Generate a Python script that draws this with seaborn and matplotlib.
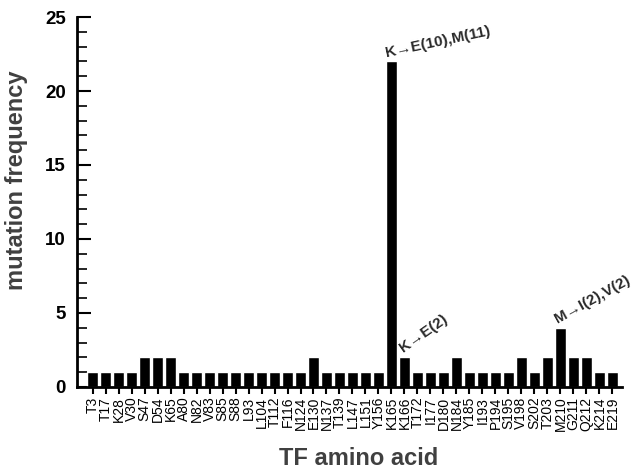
import matplotlib
matplotlib.use("Agg")
import matplotlib.pyplot as plt
import seaborn as sns
import pandas as pd
from matplotlib.ticker import MultipleLocator

# ── Data ──────────────────────────────────────────────────────────────────────
residues = [
    "T3", "T17", "K28", "V30", "S47", "D54", "K65", "A80", "N82", "V83",
    "S85", "S88", "L93", "L104", "T112", "F116", "N124", "E130", "N137", "T139",
    "L147", "L151", "Y156", "K165", "K166", "T172", "I177", "D180", "N184", "Y185",
    "I193", "P194", "S195", "V198", "S202", "T203", "M210", "G211", "Q212", "K214",
    "E219",
]
frequency = [
    1, 1, 1, 1, 2, 2, 2, 1, 1, 1,
    1, 1, 1, 1, 1, 1, 1, 2, 1, 1,
    1, 1, 1, 22, 2, 1, 1, 1, 2, 1,
    1, 1, 1, 2, 1, 2, 4, 2, 2, 1,
    1,
]
notes = {"K165": "K→E(10),M(11)", "K166": "K→E(2)", "M210": "M→I(2),V(2)"}
note_rot = {"K165": 12, "K166": 35, "M210": 29}
note_dx = {"K165": -0.4, "K166": -0.1, "M210": -0.2}

df = pd.DataFrame({"residue": residues, "frequency": frequency})

# ── Style ─────────────────────────────────────────────────────────────────────
sns.set_style("ticks")
plt.rcParams["font.family"] = ["Liberation Sans", "DejaVu Sans"]

fig = plt.figure(figsize=(6.32, 4.73), dpi=100)
ax = fig.add_axes([0.122, 0.182, 0.862, 0.782])

sns.barplot(data=df, x="residue", y="frequency", color="black",
            width=0.82, saturation=1, ax=ax)

ax.set_ylim(0, 25)
ax.set_xlim(-1.19, len(residues) - 0.27)
ax.yaxis.set_major_locator(MultipleLocator(5))
ax.yaxis.set_minor_locator(MultipleLocator(1))
ax.tick_params(axis="y", which="major", direction="in", length=10, width=1.5,
               labelsize=13.5, pad=8, labelcolor="black", color="black")
ax.tick_params(axis="y", which="minor", direction="in", length=7, width=1.2,
               color="black")
ax.tick_params(axis="x", length=5, width=1.5, labelsize=10, rotation=90, pad=2,
               labelcolor="black", color="black")
for lbl in ax.get_yticklabels():
    lbl.set_fontweight("bold")

sns.despine(ax=ax)
for side in ["left", "bottom"]:
    ax.spines[side].set_linewidth(2)
    ax.spines[side].set_color("black")

ax.set_xlabel("TF amino acid", fontsize=17, fontweight="bold", color="#404040")
ax.set_ylabel("mutation frequency", fontsize=17, fontweight="bold", color="#404040")
ax.xaxis.set_label_coords(0.517, -0.162)
ax.yaxis.set_label_coords(-0.09, 0.56)

# ── Annotations ───────────────────────────────────────────────────────────────
for res, txt in notes.items():
    i = residues.index(res)
    ax.text(i + note_dx[res], frequency[i] + 0.3, txt, rotation=note_rot[res],
            rotation_mode="anchor", ha="left", va="baseline",
            fontsize=11, fontweight="bold", color="#2a2a2a", clip_on=False)

fig.savefig("out.png", dpi=100)
